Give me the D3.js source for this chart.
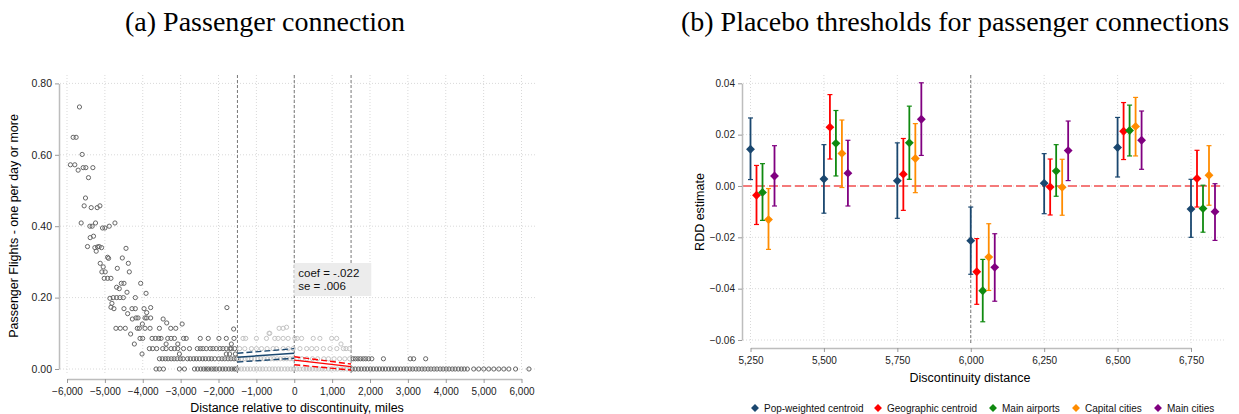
<!DOCTYPE html>
<html>
<head>
<meta charset="utf-8">
<style type="text/css">
body { margin: 0; background: #fff; }
svg { display: block; font-family: "Liberation Sans", Arial, sans-serif; }
.title { font-family: "Liberation Serif", "Times New Roman", serif; font-size: 28px; fill: #000; }
.tick text { fill: #222; }
.grid line { stroke: #d9d9d9; stroke-dasharray: 1,2; }
.cut { stroke: #777; stroke-dasharray: 3,2; stroke-width: 1; }
</style>
<script src="https://d3js.org/d3.v7.min.js"></script>
</head>
<body>
<script type="text/javascript">
var width = 1239;
var height = 414;

// ---- panel (a) : binned scatter, [distance, share] ----
var upperPoints = [
  [-5671,0.734],[-5838,0.649],[-5759,0.649],[-5600,0.601],[-5910,0.572],[-5794,0.572],
  [-5706,0.557],[-5573,0.564],[-5502,0.564],[-5317,0.564],[-5433,0.536],[-5512,0.479],
  [-5547,0.457],[-5361,0.452],[-5203,0.452],[-5131,0.457],[-5626,0.409],[-5396,0.400],
  [-5335,0.400],[-5247,0.409],[-5062,0.395],[-4999,0.395],[-4885,0.400],[-4734,0.409],
  [-5388,0.368],[-5300,0.372],[-4442,0.338],[-5459,0.343],[-5264,0.340],[-5193,0.342],
  [-5150,0.343],[-5088,0.340],[-5229,0.330],[-4928,0.313],[-4902,0.310],[-4540,0.311],
  [-5123,0.296],[-5044,0.286],[-4672,0.282],[-4381,0.296],[-5079,0.272],[-4991,0.272],
  [-4355,0.272],[-5017,0.254],[-4928,0.254],[-4840,0.254],[-4566,0.240],[-4496,0.240],
  [-4055,0.240],[-4690,0.229],[-4620,0.225],[-4416,0.215],[-3913,0.212],[-4867,0.198],
  [-4779,0.200],[-4690,0.200],[-4602,0.200],[-4513,0.200],[-4196,0.200],[-4814,0.184],
  [-4840,0.173],[-4761,0.169],[-4496,0.169],[-4284,0.169],[-4196,0.169],[-3966,0.169],
  [-3791,0.172],[-3896,0.158],[-4399,0.155],[-4275,0.140],[-4178,0.143],[-4125,0.143],
  [-3940,0.143],[-3896,0.143],[-3791,0.143],[-4010,0.126],[-3462,0.140],[-3367,0.129],
  [-3128,0.114],[-3261,0.114],[-2960,0.126],[-4708,0.114],[-4593,0.114],[-4461,0.114],
  [-4143,0.114],[-4090,0.114],[-3940,0.114],[-3807,0.114],[-3560,0.114],[-4320,0.098],
  [-4222,0.070],[-4019,0.042],[-1778,0.172],[-1600,0.112],[-3383,0.070],[-3075,0.070],
  [-3032,0.042],[-1794,0.042],[-1706,0.042],[-1555,0.042],[-1661,0.070],
  [-646,0.100],[-400,0.114],[-294,0.114],[-203,0.117],[-665,0.100],[1234,0.070]
];
var row086 = [-4072,-4002,-3754,-3666,-3579,-3516,-3341,-3253,-3163,-2924,-2853,-2482,
  -2270,-1989,-1794,-1591,-1353,-1282,-999,-734,-514,-426,-294,-162,16,77,194,501,677,987,1120];
var row057 = [-3825,-3738,-3632,-3473,-3383,-3251,-3163,-3075,-2924,-2766,-2560,-2480,-2413,
  -2323,-2217,-2148,-2060,-1960,-1883,-1794,-1700,-1661,-1574,
  -1440,-1306,-1130,-998,-865,-717,-558,-468,-292,-160,-27,151,328,461,593,769,946,1124,1298,1367,1455];
var row029 = [-3560,-3484,-3402,-3331,-3247,-3172,-3093,-3008,-2937,-2818,-2745,-2657,-2583,
  -2502,-2418,-2344,-2258,-2183,-2097,-1992,-1908,-1834,-1748,-1672,-1589,-1521,
  -1468,-1392,-1297,-1224,-1128,-1052,-963,-884,-797,-712,-618,-541,-452,-368,-281,-197,-112,-33,
  58,203,331,482,617,781,903,1052,1198,1334,1462,
  1553,1614,1682,1749,1823,1888,1964,2048,2355,3063,3152,3470];
var row000 = [-3648,-3560,-3454,-3032,-2899,-2634,-2551,-2468,-2392,-2325,-2264,-2188,-2121,-2060,
  -1970,-1889,-1812,-1727,-1652,-1581,-1528,
  -1483,-1398,-1322,-1236,-1161,-1068,-992,-907,-833,-748,-662,-579,-503,-417,-342,-248,-171,-88,-12,
  71,148,243,318,402,477,572,648,733,808,902,977,1063,1138,1232,1307,1393,1468,
  1532,1608,1693,1768,1852,1927,2013,2087,2172,2248,2331,2407,2493,2566,2652,2728,2811,2893,
  2968,3054,3127,3213,3288,3372,3447,3533,3608,3692,3767,3853,3929,4012,4087,4172,4248,4331,
  4412,4488,4571,4739,4871,5004,5136,5269,5401,5534,5666,5844,6197];
var rowShares = { r086: 0.0857, r057: 0.0571, r029: 0.0286, r000: 0.0 };

var xTicksA = [-6000,-5000,-4000,-3000,-2000,-1000,0,1000,2000,3000,4000,5000,6000];
var yTicksA = [0, 0.2, 0.4, 0.6, 0.8];
var bandCuts = [-1500, 0, 1500];
var bandwidth = 1500;

// local linear fits each side of the cut
var leftFitDist = [-1500, 0];
var leftFitMid = [0.033, 0.044];
var leftFitHi = [0.044, 0.057];
var leftFitLo = [0.0196, 0.030];
var rightFitDist = [0, 1500];
var rightFitMid = [0.025, 0.0066];
var rightFitHi = [0.0345, 0.014];
var rightFitLo = [0.012, -0.003];
var annotation = ["coef = -.022", "se = .006"];

// ---- panel (b) : placebo thresholds ----
var thresholds = [5250, 5500, 5750, 6000, 6250, 6500, 6750];
var yTicksB = [-0.06, -0.04, -0.02, 0, 0.02, 0.04];
var seriesNames = ["Pop-weighted centroid", "Geographic centroid", "Main airports", "Capital cities", "Main cities"];
var seriesColors = ["#1a476f", "#ff0000", "#108a10", "#ff8c00", "#800080"];
var popEst = [0.0143, 0.0027, 0.0020, -0.0213, 0.0011, 0.0150, -0.0090];
var popHi  = [0.0265, 0.0161, 0.0168, -0.0082, 0.0126, 0.0267, 0.0026];
var popLo  = [0.0025, -0.0106, -0.0126, -0.0344, -0.0108, 0.0035, -0.0200];
var geoEst = [-0.0036, 0.0229, 0.0046, -0.0334, -0.0004, 0.0213, 0.0029];
var geoHi  = [0.0080, 0.0356, 0.0185, -0.0205, 0.0105, 0.0325, 0.0139];
var geoLo  = [-0.0150, 0.0105, -0.0095, -0.0461, -0.0113, 0.0103, -0.0082];
var airEst = [-0.0025, 0.0166, 0.0168, -0.0408, 0.0058, 0.0216, -0.0088];
var airHi  = [0.0087, 0.0294, 0.0311, -0.0286, 0.0161, 0.0315, 0.0003];
var airLo  = [-0.0134, 0.0039, 0.0026, -0.0529, -0.0040, 0.0117, -0.0180];
var capEst = [-0.0131, 0.0127, 0.0107, -0.0277, -0.0005, 0.0232, 0.0042];
var capHi  = [-0.0010, 0.0257, 0.0243, -0.0147, 0.0104, 0.0345, 0.0157];
var capLo  = [-0.0247, -0.0006, -0.0026, -0.0407, -0.0114, 0.0117, -0.0075];
var mainEst = [0.0039, 0.0050, 0.0260, -0.0317, 0.0138, 0.0178, -0.0100];
var mainHi  = [0.0157, 0.0178, 0.0402, -0.0186, 0.0253, 0.0292, 0.0009];
var mainLo  = [-0.0078, -0.0078, 0.0119, -0.0449, 0.0021, 0.0065, -0.0212];

var svg = d3.select("body").append("svg").attr("width", width).attr("height", height);

// ================= panel (a) =================
var xA = d3.scaleLinear().domain([-6000, 6000]).range([67, 521.5]);
var yA = d3.scaleLinear().domain([0, 0.8]).range([369, 83.4]);
var plotA = { left: 60, right: 537, top: 75, bottom: 375 };

svg.append("text").attr("class", "title").attr("x", 265).attr("y", 31)
  .attr("text-anchor", "middle").text("(a) Passenger connection");

var gridA = svg.append("g").attr("class", "grid");
gridA.selectAll(".gy").data(yTicksA).enter().append("line")
  .attr("x1", plotA.left).attr("x2", plotA.right)
  .attr("y1", function(d){ return yA(d); }).attr("y2", function(d){ return yA(d); });
gridA.selectAll(".gx").data(xTicksA).enter().append("line")
  .attr("y1", plotA.top).attr("y2", plotA.bottom)
  .attr("x1", function(d){ return xA(d); }).attr("x2", function(d){ return xA(d); });

svg.selectAll(".cutA").data(bandCuts).enter().append("line").attr("class", "cut")
  .attr("y1", plotA.top).attr("y2", plotA.bottom)
  .attr("x1", function(d){ return xA(d); }).attr("x2", function(d){ return xA(d); });

var pts = upperPoints.slice();
row086.forEach(function(d){ pts.push([d, rowShares.r086]); });
row057.forEach(function(d){ pts.push([d, rowShares.r057]); });
row029.forEach(function(d){ pts.push([d, rowShares.r029]); });
row000.forEach(function(d){ pts.push([d, rowShares.r000]); });

svg.append("g").selectAll("circle").data(pts).enter().append("circle")
  .attr("cx", function(d){ return xA(d[0]); })
  .attr("cy", function(d){ return yA(d[1]); })
  .attr("r", 2.1)
  .attr("fill", "none")
  .attr("stroke-width", 1)
  .attr("stroke", function(d){ return Math.abs(d[0]) < bandwidth ? "#c4c4c4" : "#666"; });

function fitLine(dist, vals, color, dash) {
  var line = d3.line().x(function(d, i){ return xA(dist[i]); }).y(function(d){ return yA(d); });
  svg.append("path").datum(vals).attr("d", line)
    .attr("fill", "none").attr("stroke", color).attr("stroke-width", 1.4)
    .attr("stroke-dasharray", dash);
}
fitLine(leftFitDist, leftFitMid, "#1a476f", null);
fitLine(leftFitDist, leftFitHi, "#1a476f", "6,3");
fitLine(leftFitDist, leftFitLo, "#1a476f", "6,3");
fitLine(rightFitDist, rightFitMid, "#ff0000", null);
fitLine(rightFitDist, rightFitHi, "#ff0000", "6,3");
fitLine(rightFitDist, rightFitLo, "#ff0000", "6,3");

svg.append("rect").attr("x", xA(0)).attr("y", 263).attr("width", 77).attr("height", 33).attr("fill", "#ececec");
svg.selectAll(".ann").data(annotation).enter().append("text")
  .attr("x", xA(0) + 4).attr("y", function(d, i){ return 277 + i * 12.5; })
  .attr("font-size", "11.5px").attr("fill", "#111").text(function(d){ return d; });

var axA = svg.append("g").attr("transform", "translate(0,379)")
  .call(d3.axisBottom(xA).tickValues(xTicksA).tickSize(4).tickSizeOuter(0).tickFormat(d3.format(",")));
axA.selectAll("text").attr("font-size", "10px").attr("font-family", "Liberation Sans, Arial, sans-serif").attr("dy", "0.9em");
var ayA = svg.append("g").attr("transform", "translate(59,0)")
  .call(d3.axisLeft(yA).tickValues(yTicksA).tickSize(4).tickSizeOuter(0).tickFormat(d3.format(".2f")));
ayA.selectAll("text").attr("font-size", "10.5px").attr("font-family", "Liberation Sans, Arial, sans-serif");
[axA, ayA].forEach(function(a){
  a.select(".domain").attr("stroke", "#bdbdbd").attr("stroke-width", 1.5);
  a.selectAll(".tick line").attr("stroke", "#999");
});

svg.append("text").attr("x", 297).attr("y", 412).attr("text-anchor", "middle")
  .attr("font-size", "12.5px").text("Distance relative to discontinuity, miles");
svg.append("text").attr("transform", "translate(18,226) rotate(-90)").attr("text-anchor", "middle")
  .attr("font-size", "12.5px").text("Passenger Flights - one per day or more");

// ================= panel (b) =================
var xB = d3.scaleLinear().domain([5250, 6750]).range([750.5, 1191]);
var yB = d3.scaleLinear().domain([-0.06, 0.04]).range([340, 83.3]);
var dodge = d3.scalePoint().domain(seriesNames).range([0, 24]);
var plotB = { left: 743, right: 1224, top: 75, bottom: 345 };

svg.append("text").attr("class", "title").attr("x", 955).attr("y", 31)
  .attr("text-anchor", "middle").text("(b) Placebo thresholds for passenger connections");

var gridB = svg.append("g").attr("class", "grid");
gridB.selectAll(".gy").data(yTicksB).enter().append("line")
  .attr("x1", plotB.left).attr("x2", plotB.right)
  .attr("y1", function(d){ return yB(d); }).attr("y2", function(d){ return yB(d); });
gridB.selectAll(".gx").data(thresholds).enter().append("line")
  .attr("y1", plotB.top).attr("y2", plotB.bottom)
  .attr("x1", function(d){ return xB(d); }).attr("x2", function(d){ return xB(d); });

svg.append("line").attr("class", "cut").attr("x1", xB(6000)).attr("x2", xB(6000))
  .attr("y1", plotB.top).attr("y2", plotB.bottom).attr("stroke-width", 1.2);
svg.append("line").attr("x1", plotB.left).attr("x2", plotB.right)
  .attr("y1", yB(0)).attr("y2", yB(0))
  .attr("stroke", "#f47a7a").attr("stroke-width", 2).attr("stroke-dasharray", "9,4");

var seriesData = [
  { est: popEst, lo: popLo, hi: popHi },
  { est: geoEst, lo: geoLo, hi: geoHi },
  { est: airEst, lo: airLo, hi: airHi },
  { est: capEst, lo: capLo, hi: capHi },
  { est: mainEst, lo: mainLo, hi: mainHi }
];
var diamond = d3.symbol().type(d3.symbolDiamond2).size(50);

seriesData.forEach(function(s, si) {
  var name = seriesNames[si], col = seriesColors[si];
  var g = svg.append("g");
  thresholds.forEach(function(t, i) {
    var cx = xB(t) + dodge(name);
    g.append("line").attr("x1", cx).attr("x2", cx).attr("y1", yB(s.lo[i])).attr("y2", yB(s.hi[i]))
      .attr("stroke", col).attr("stroke-width", 1.8);
    [s.lo[i], s.hi[i]].forEach(function(v) {
      g.append("line").attr("x1", cx - 2.5).attr("x2", cx + 2.5).attr("y1", yB(v)).attr("y2", yB(v))
        .attr("stroke", col).attr("stroke-width", 1.2);
    });
    g.append("path").attr("d", diamond).attr("fill", col)
      .attr("transform", "translate(" + cx + "," + yB(s.est[i]) + ")");
  });
});

var axB = svg.append("g").attr("transform", "translate(0,348)")
  .call(d3.axisBottom(xB).tickValues(thresholds).tickSize(4).tickSizeOuter(0).tickFormat(d3.format(",")));
axB.selectAll("text").attr("font-size", "10px").attr("font-family", "Liberation Sans, Arial, sans-serif").attr("dy", "0.9em");
var ayB = svg.append("g").attr("transform", "translate(742,0)")
  .call(d3.axisLeft(yB).tickValues(yTicksB).tickSize(4).tickSizeOuter(0).tickFormat(d3.format(".2f")));
ayB.selectAll("text").attr("font-size", "10px").attr("font-family", "Liberation Sans, Arial, sans-serif");
[axB, ayB].forEach(function(a){
  a.select(".domain").attr("stroke", "#bdbdbd").attr("stroke-width", 1.5);
  a.selectAll(".tick line").attr("stroke", "#999");
});

svg.append("text").attr("x", 970).attr("y", 382).attr("text-anchor", "middle")
  .attr("font-size", "12.5px").text("Discontinuity distance");
svg.append("text").attr("transform", "translate(704,212) rotate(-90)").attr("text-anchor", "middle")
  .attr("font-size", "12.5px").text("RDD estimate");

// legend
var legendX = [755, 878, 993, 1076, 1158];
var lg = svg.append("g").selectAll("g").data(seriesNames).enter().append("g")
  .attr("transform", function(d, i){ return "translate(" + legendX[i] + ",408)"; });
lg.append("path").attr("d", d3.symbol().type(d3.symbolDiamond2).size(40))
  .attr("fill", function(d, i){ return seriesColors[i]; });
lg.append("text").attr("x", 9).attr("y", 3.6).attr("font-size", "10px").attr("fill", "#111")
  .text(function(d){ return d; });
</script>
</body>
</html>
